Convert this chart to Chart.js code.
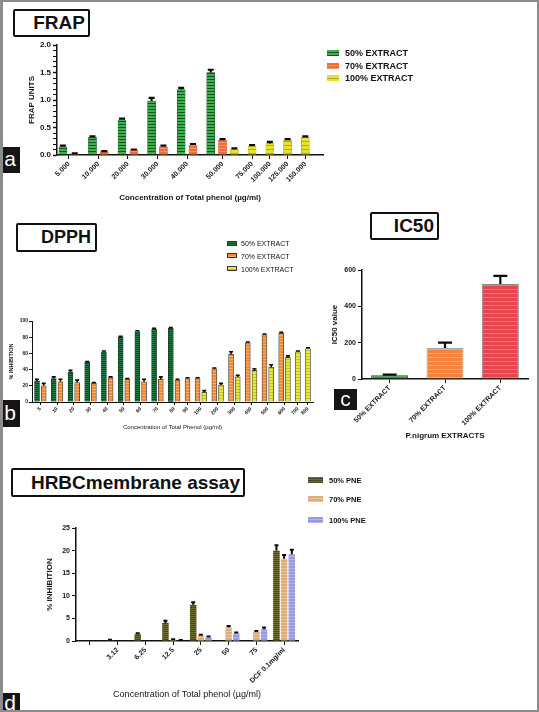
<!DOCTYPE html>
<html>
<head>
<meta charset="utf-8">
<script src="https://cdn.jsdelivr.net/npm/chart.js@4.4.1/dist/chart.umd.min.js"></script>
<style>
body { margin: 0; background: #fff; }
#page { position: relative; width: 539px; height: 712px; overflow: hidden; background: #fff; font-family: 'Liberation Sans', Arial, sans-serif; color: #111; }
#page canvas { position: absolute; }
.tbox { position: absolute; box-sizing: border-box; border: 2px solid #111; border-radius: 2px; font-weight: bold; text-align: right; background: #fff; white-space: nowrap; }
.tag { position: absolute; background: #151515; color: #fff; font-size: 21px; text-align: center; }
.sw { position: absolute; box-sizing: border-box; }
.lg { position: absolute; white-space: nowrap; transform: translateY(-50%); }
#frame { position: absolute; left: 0; top: 0; width: 539px; height: 712px; box-sizing: border-box; border: 2px solid #8c8c8c; border-left-width: 3px; pointer-events: none; }
</style>
</head>
<body>
<div id="page">
    <div class="tbox" style="left:13px;top:9px;width:77px;height:28px;font-size:19px;line-height:24px;padding-right:3px;">FRAP</div>
    <div class="tbox" style="left:16px;top:223px;width:81px;height:29px;font-size:18px;line-height:25px;padding-right:4px;">DPPH</div>
    <div class="tbox" style="left:370px;top:212px;width:69px;height:28px;font-size:19px;line-height:24px;padding-right:3px;">IC50</div>
    <div class="tbox" style="left:11px;top:468px;width:234px;height:29px;font-size:19px;line-height:25px;padding-right:3px;">HRBCmembrane assay</div>

    <canvas id="frapChart" style="left:0px;top:38px;" width="330" height="168"></canvas>
    <canvas id="dpphChart" style="left:0px;top:312px;" width="318" height="122"></canvas>
    <canvas id="ic50Chart" style="left:322px;top:262px;" width="212" height="182"></canvas>
    <canvas id="hrbcChart" style="left:30px;top:518px;" width="272" height="185"></canvas>

    <div class="tag" style="left:0px;top:147px;width:20px;height:26px;line-height:24px;">a</div>
    <div class="tag" style="left:0px;top:400px;width:20px;height:27px;line-height:25px;">b</div>
    <div class="tag" style="left:334px;top:389px;width:23px;height:21px;line-height:20px;">c</div>
    <div class="tag" style="left:0px;top:693px;width:20px;height:19px;line-height:19px;">d</div>
    <div id="frame"></div>
</div>
<script>
// ---- panel a : FRAP ----
const frapConc = ['5.000', '10.000', '20.000', '30.000', '40.000', '50.000', '75.000', '100.000', '125.000', '150.000'];
const frap50 = [0.15, 0.32, 0.64, 0.98, 1.19, 1.50, null, null, null, null];
const frap50Err = [0.02, 0.02, 0.02, 0.06, 0.03, 0.05, null, null, null, null];
const frap70 = [0.02, 0.06, 0.09, 0.15, 0.18, 0.27, null, null, null, null];
const frap70Err = [0.01, 0.01, 0.01, 0.02, 0.02, 0.02, null, null, null, null];
const frap100 = [null, null, null, null, null, 0.10, 0.16, 0.21, 0.27, 0.32];
const frap100Err = [null, null, null, null, null, 0.02, 0.02, 0.03, 0.02, 0.02];

// ---- panel b : DPPH ----
const dpphConc = ['5', '10', '20', '30', '40', '50', '60', '70', '80', '90', '100', '200', '300', '400', '500', '600', '700', '800'];
const dpph50 = [26, 29, 37, 49, 62, 80, 87, 90, 91, null, null, null, null, null, null, null, null, null];
const dpph50Err = [2, 2, 2, 1, 1, 1, 1, 1, 1, null, null, null, null, null, null, null, null, null];
const dpph70 = [20, 25, 24, 23, 30, 28, 25, 28, 27, 29, 29, 41, 59, 73, 83, 85, null, null];
const dpph70Err = [3, 3, 3, 1, 1, 1, 3, 3, 1, 1, 1, 1, 3, 1, 1, 1, null, null];
const dpph100 = [null, null, null, null, null, null, null, null, null, null, 12, 21, 31, 39, 43, 55, 62, 66];
const dpph100Err = [null, null, null, null, null, null, null, null, null, null, 2, 2, 2, 2, 3, 2, 1, 1];

// ---- panel c : IC50 ----
const ic50Groups = ['50% EXTRACT', '70% EXTRACT', '100% EXTRACT'];
const ic50Values = [20, 170, 523];
const ic50Err = [4, 30, 45];

// ---- panel d : HRBC membrane assay ----
const hrbcConc = ['', '3.12', '6.25', '12.5', '25', '50', '75', 'DCF 0.1mg/ml'];
const hrbc50 = [0, 0.2, 1.5, 4.0, 8.0, 0, 0, 20.0];
const hrbc50Err = [0, 0.1, 0.2, 0.5, 0.6, 0, 0, 1.2];
const hrbc70 = [0, 0, 0, 0.3, 1.2, 3.0, 2.0, 18.2];
const hrbc70Err = [0, 0, 0, 0.1, 0.2, 0.3, 0.2, 0.8];
const hrbc100 = [0, 0, 0, 0.1, 0.8, 1.7, 2.6, 19.2];
const hrbc100Err = [0, 0, 0, 0.1, 0.2, 0.2, 0.4, 1.0];

const FONT = "'Liberation Sans', Arial, sans-serif";
Chart.defaults.font.family = FONT;
Chart.defaults.color = '#161616';

// fills: base colour + horizontal stripe (GraphPad style hatching)
const fills = {
    frapGreen: { base: '#3bb24b', line: '#1c4f25', period: 3, lw: 1 },
    frapOrange: { base: '#f26a36', line: '#f79669', period: 3, lw: 1 },
    frapYellow: { base: '#e6e22f', line: '#b3ab1e', period: 4, lw: 1 },
    dpphGreen: { base: '#1f7d40', line: '#0f4a23', period: 2, lw: 1 },
    dpphOrange: { base: '#f08a34', line: '#f6ad6c', period: 3, lw: 1 },
    dpphYellow: { base: '#e8e83c', line: '#c4c222', period: 3, lw: 1 },
    icGreen: { base: '#2f9b45', line: '#237a36', period: 3, lw: 1 },
    icOrange: { base: '#f5833b', line: '#f9a269', period: 4, lw: 1 },
    icRed: { base: '#e8454f', line: '#f0737a', period: 4, lw: 1 },
    olive: { base: '#6f6d2f', line: '#4a481c', period: 2, lw: 1 },
    tan: { base: '#dcab79', line: '#eac7a0', period: 3, lw: 1 },
    lav: { base: '#9a9ae0', line: '#b2b2ec', period: 3, lw: 1 }
};

function pattern(f) {
    const c = document.createElement('canvas');
    c.width = 4;
    c.height = f.period;
    const g = c.getContext('2d');
    g.fillStyle = f.base;
    g.fillRect(0, 0, 4, f.period);
    g.fillStyle = f.line;
    g.fillRect(0, f.period - f.lw, 4, f.lw);
    return g.createPattern(c, 'repeat');
}

function cssFill(f) {
    const a = f.period - f.lw;
    return `repeating-linear-gradient(to bottom, ${f.base} 0px, ${f.base} ${a}px, ${f.line} ${a}px, ${f.line} ${f.period}px)`;
}

// GraphPad style columns: bars of one concentration 2 slots apart, groups 3 slots apart
function buildSlots(conc, series, lead, trail) {
    const labels = [];
    const values = series.map(() => []);
    const errors = series.map(() => []);
    const blank = () => {
        labels.push('');
        series.forEach((s, si) => { values[si].push(null); errors[si].push(null); });
    };
    for (let k = 0; k < lead; k++) blank();
    conc.forEach((c, ci) => {
        if (ci > 0) { blank(); blank(); }
        const present = [];
        series.forEach((s, si) => { if (s.v[ci] != null) present.push(si); });
        const width = present.length * 2 - 1;
        const mid = (width - 1) / 2;
        for (let p = 0; p < width; p++) {
            labels.push(p === mid ? c : '');
            series.forEach((s, si) => {
                const here = p % 2 === 0 && present[p / 2] === si;
                values[si].push(here ? s.v[ci] : null);
                errors[si].push(here ? s.e[ci] : null);
            });
        }
    });
    for (let k = 0; k < trail; k++) blank();
    return { labels, values, errors };
}

const errorBarPlugin = {
    id: 'errorBars',
    afterDatasetsDraw(chart, args, opts) {
        const ctx = chart.ctx;
        const yScale = chart.scales.y;
        chart.data.datasets.forEach((ds, i) => {
            if (!ds.errors) return;
            const meta = chart.getDatasetMeta(i);
            meta.data.forEach((bar, j) => {
                const v = ds.data[j];
                const e = ds.errors[j];
                if (v == null || !e) return;
                const top = yScale.getPixelForValue(v + e);
                ctx.save();
                ctx.strokeStyle = '#0a0a0a';
                ctx.lineWidth = opts.width || 1.5;
                ctx.beginPath();
                ctx.moveTo(bar.x, bar.y);
                ctx.lineTo(bar.x, top);
                ctx.moveTo(bar.x - opts.cap / 2, top);
                ctx.lineTo(bar.x + opts.cap / 2, top);
                ctx.stroke();
                ctx.restore();
            });
        });
    }
};

function addLegend(x, items, rowYs, font, sw) {
    const page = document.getElementById('page');
    items.forEach((it, i) => {
        const s = document.createElement('div');
        s.className = 'sw';
        s.style.cssText = `left:${x}px;top:${rowYs[i] - sw.h / 2}px;width:${sw.w}px;height:${sw.h}px;background:${cssFill(it.fill)};` +
            (sw.border ? `border:1px solid ${sw.border};` : '');
        page.appendChild(s);
        const t = document.createElement('div');
        t.className = 'lg';
        t.textContent = it.label;
        t.style.left = (x + sw.w + sw.gap) + 'px';
        t.style.top = rowYs[i] + 'px';
        t.style.font = font;
        page.appendChild(t);
    });
}

const slotTickColor = c => (c.tick && c.tick.label !== '') ? '#111' : 'rgba(0,0,0,0)';
const axisBorder = { color: '#111', width: 1.5 };

// ---------- FRAP ----------
const frapSlots = buildSlots(frapConc, [
    { v: frap50, e: frap50Err },
    { v: frap70, e: frap70Err },
    { v: frap100, e: frap100Err }
], 1, 3);

new Chart(document.getElementById('frapChart'), {
    type: 'bar',
    data: {
        labels: frapSlots.labels,
        datasets: [
            { label: '50% EXTRACT', data: frapSlots.values[0], errors: frapSlots.errors[0], backgroundColor: pattern(fills.frapGreen), borderColor: '#1c4f25', borderWidth: 0.5 },
            { label: '70% EXTRACT', data: frapSlots.values[1], errors: frapSlots.errors[1], backgroundColor: pattern(fills.frapOrange), borderColor: '#c24f22', borderWidth: 0.5 },
            { label: '100% EXTRACT', data: frapSlots.values[2], errors: frapSlots.errors[2], backgroundColor: pattern(fills.frapYellow), borderColor: '#a8a01c', borderWidth: 0.5 }
        ]
    },
    options: {
        responsive: false,
        animation: false,
        devicePixelRatio: 1,
        layout: { padding: { left: 23, top: 7, right: 3, bottom: 0 } },
        datasets: { bar: { grouped: false, barThickness: 8 } },
        plugins: { legend: { display: false }, tooltip: { enabled: false }, errorBars: { cap: 6, width: 2.2 } },
        scales: {
            x: {
                offset: false,
                grid: { offset: false, drawOnChartArea: false, tickLength: 4, color: slotTickColor },
                border: axisBorder,
                ticks: { autoSkip: false, maxRotation: 45, minRotation: 45, padding: 1, font: { size: 7, weight: 'bold' } },
                title: { display: true, text: 'Concentration of Total phenol (µg/ml)', font: { size: 8, weight: 'bold' }, padding: { top: 0, bottom: 3 } },
                afterFit: s => { s.height = 51; }
            },
            y: {
                min: 0, max: 2,
                ticks: { stepSize: 0.1, autoSkip: false, padding: 2, font: { size: 8, weight: 'bold' },
                    callback: v => (Math.round(v * 10) % 5 === 0 ? v.toFixed(1) : '') },
                grid: { drawOnChartArea: false, tickLength: 4, color: '#111',
                    tickWidth: c => (Math.round(c.tick.value * 10) % 5 === 0 ? 1.5 : 1) },
                border: axisBorder,
                title: { display: true, text: 'FRAP UNITS', font: { size: 8, weight: 'bold' }, padding: { top: 4, bottom: 0 } },
                afterFit: s => { s.width = 34; }
            }
        }
    },
    plugins: [errorBarPlugin]
});

addLegend(327, [
    { label: '50% EXTRACT', fill: fills.frapGreen },
    { label: '70% EXTRACT', fill: fills.frapOrange },
    { label: '100% EXTRACT', fill: fills.frapYellow }
], [53, 65.5, 78], `bold 9px ${FONT}`, { w: 12, h: 6, gap: 6 });

// ---------- DPPH ----------
const dpphSlots = buildSlots(dpphConc, [
    { v: dpph50, e: dpph50Err },
    { v: dpph70, e: dpph70Err },
    { v: dpph100, e: dpph100Err }
], 1, 1);

new Chart(document.getElementById('dpphChart'), {
    type: 'bar',
    data: {
        labels: dpphSlots.labels,
        datasets: [
            { label: '50% EXTRACT', data: dpphSlots.values[0], errors: dpphSlots.errors[0], backgroundColor: pattern(fills.dpphGreen), borderColor: '#333', borderWidth: 0.8 },
            { label: '70% EXTRACT', data: dpphSlots.values[1], errors: dpphSlots.errors[1], backgroundColor: pattern(fills.dpphOrange), borderColor: '#444', borderWidth: 0.8 },
            { label: '100% EXTRACT', data: dpphSlots.values[2], errors: dpphSlots.errors[2], backgroundColor: pattern(fills.dpphYellow), borderColor: '#444', borderWidth: 0.8 }
        ]
    },
    options: {
        responsive: false,
        animation: false,
        devicePixelRatio: 1,
        layout: { padding: { left: 6, top: 9, right: 5, bottom: 0 } },
        datasets: { bar: { grouped: false, barThickness: 5 } },
        plugins: { legend: { display: false }, tooltip: { enabled: false }, errorBars: { cap: 4, width: 1.6 } },
        scales: {
            x: {
                offset: true,
                grid: { offset: false, drawOnChartArea: false, tickLength: 3, color: slotTickColor },
                border: { color: '#111', width: 1 },
                ticks: { autoSkip: false, maxRotation: 45, minRotation: 45, padding: 1, font: { size: 5, weight: 'bold' } },
                title: { display: true, text: 'Concentration of Total Phenol (µg/ml)', font: { size: 6 }, padding: { top: 0, bottom: 3 } },
                afterFit: s => { s.height = 32; }
            },
            y: {
                min: 0, max: 100,
                ticks: { stepSize: 20, autoSkip: false, padding: 1, font: { size: 5, weight: 'bold' } },
                grid: { drawOnChartArea: false, tickLength: 3, color: '#111' },
                border: { color: '#111', width: 1 },
                title: { display: true, text: '% INHIBITION', font: { size: 5.5, weight: 'bold' }, padding: { top: 2, bottom: 0 } },
                afterFit: s => { s.width = 26; }
            }
        }
    },
    plugins: [errorBarPlugin]
});

addLegend(227, [
    { label: '50% EXTRACT', fill: fills.dpphGreen },
    { label: '70% EXTRACT', fill: fills.dpphOrange },
    { label: '100% EXTRACT', fill: fills.dpphYellow }
], [243, 255.5, 268.5], `7px ${FONT}`, { w: 10, h: 5, gap: 4, border: '#333' });

// ---------- IC50 ----------
new Chart(document.getElementById('ic50Chart'), {
    type: 'bar',
    data: {
        labels: ic50Groups,
        datasets: [{
            label: 'IC50',
            data: ic50Values,
            errors: ic50Err,
            backgroundColor: [pattern(fills.icGreen), pattern(fills.icOrange), pattern(fills.icRed)],
            borderColor: ['#1b5a28', '#9aa6b4', '#8a8a8a'],
            borderWidth: 1
        }]
    },
    options: {
        responsive: false,
        animation: false,
        devicePixelRatio: 1,
        layout: { padding: { left: 4, top: 8, right: 6, bottom: 0 } },
        datasets: { bar: { categoryPercentage: 1, barPercentage: 0.67 } },
        plugins: { legend: { display: false }, tooltip: { enabled: false }, errorBars: { cap: 14, width: 2.2 } },
        scales: {
            x: {
                grid: { offset: false, drawOnChartArea: false, tickLength: 4, color: '#111' },
                border: axisBorder,
                ticks: { autoSkip: false, maxRotation: 45, minRotation: 45, padding: 1, font: { size: 7, weight: 'bold' } },
                title: { display: true, text: 'P.nigrum EXTRACTS', font: { size: 8, weight: 'bold' }, padding: { top: 0, bottom: 3 } },
                afterFit: s => { s.height = 65; }
            },
            y: {
                min: 0, max: 600,
                ticks: { stepSize: 200, autoSkip: false, padding: 2, font: { size: 7, weight: 'bold' } },
                grid: { drawOnChartArea: false, tickLength: 4, color: '#111' },
                border: axisBorder,
                title: { display: true, text: 'IC50 value', font: { size: 8, weight: 'bold' }, padding: { top: 4, bottom: 0 } },
                afterFit: s => { s.width = 36; }
            }
        }
    },
    plugins: [errorBarPlugin]
});

// ---------- HRBC ----------
new Chart(document.getElementById('hrbcChart'), {
    type: 'bar',
    data: {
        labels: hrbcConc,
        datasets: [
            { label: '50% PNE', data: hrbc50, errors: hrbc50Err, backgroundColor: pattern(fills.olive), borderWidth: 0 },
            { label: '70% PNE', data: hrbc70, errors: hrbc70Err, backgroundColor: pattern(fills.tan), borderWidth: 0 },
            { label: '100% PNE', data: hrbc100, errors: hrbc100Err, backgroundColor: pattern(fills.lav), borderWidth: 0 }
        ]
    },
    options: {
        responsive: false,
        animation: false,
        devicePixelRatio: 1,
        layout: { padding: { left: 11, top: 10, right: 4, bottom: 0 } },
        datasets: { bar: { categoryPercentage: 0.83, barPercentage: 0.85 } },
        plugins: { legend: { display: false }, tooltip: { enabled: false }, errorBars: { cap: 4, width: 2 } },
        scales: {
            x: {
                grid: { offset: false, drawOnChartArea: false, tickLength: 4, color: '#111' },
                border: axisBorder,
                ticks: { autoSkip: false, maxRotation: 45, minRotation: 45, padding: 1, font: { size: 7, weight: 'bold' } },
                title: { display: true, text: 'Concentration of Total phenol (µg/ml)', font: { size: 9 }, padding: { top: 0, bottom: 3 } },
                afterFit: s => { s.height = 62; }
            },
            y: {
                min: 0, max: 25,
                ticks: { stepSize: 5, autoSkip: false, padding: 2, font: { size: 7, weight: 'bold' } },
                grid: { drawOnChartArea: false, tickLength: 4, color: '#111' },
                border: axisBorder,
                title: { display: true, text: '% INHIBITION', font: { size: 8, weight: 'bold' }, padding: { top: 4, bottom: 0 } },
                afterFit: s => { s.width = 35; }
            }
        }
    },
    plugins: [errorBarPlugin]
});

addLegend(308, [
    { label: '50% PNE', fill: fills.olive },
    { label: '70% PNE', fill: fills.tan },
    { label: '100% PNE', fill: fills.lav }
], [480, 498.5, 520], `bold 7.5px ${FONT}`, { w: 15, h: 6, gap: 6 });
</script>
</body>
</html>
